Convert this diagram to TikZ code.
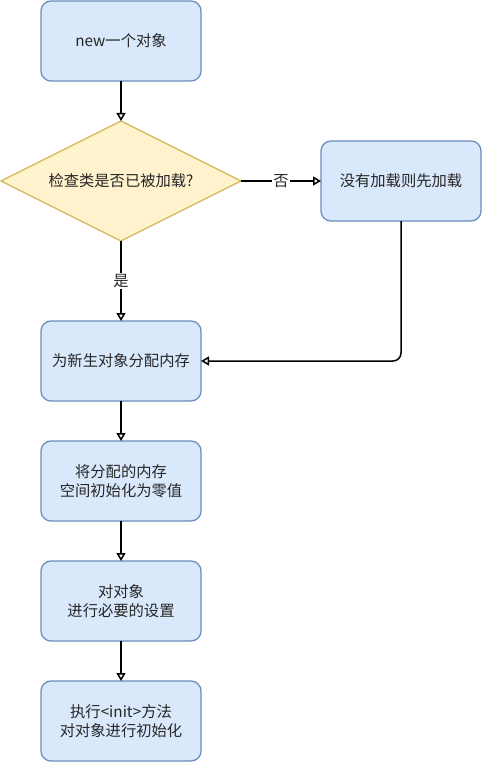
\documentclass[tikz,border=0pt]{standalone}
\usepackage{fontspec}
\setmainfont{Noto Sans CJK SC}
\usetikzlibrary{positioning, shapes.geometric, arrows.meta}
\definecolor{boxfill}{HTML}{DAE8FC}
\definecolor{boxline}{HTML}{6C8EBF}
\definecolor{askfill}{HTML}{FFF2CC}
\definecolor{askline}{HTML}{D6B656}
\tikzstyle{every node} = [font=\fontsize{15.3}{19.5}\selectfont, text=black!85]
\tikzstyle{stepbox} = [rectangle, rounded corners=10pt, draw=boxline, fill=boxfill, line width=1.3pt, outer sep=0pt, minimum width=160pt, minimum height=80pt, align=center]
\tikzstyle{askbox} = [diamond, aspect=2, inner sep=0pt, outer sep=0pt, draw=askline, fill=askfill, line width=1.3pt, minimum width=240pt, minimum height=120pt]
\tikzstyle{flow} = [line width=1.5pt, -{Triangle[open, length=8pt, width=9pt]}]
\tikzstyle{tag} = [fill=white, inner sep=1pt]

\begin{document}
\begin{tikzpicture}[x=1pt, y=-1pt, node distance=40pt]
        \useasboundingbox (0,0) rectangle (482,762);
        \node[stepbox] (newobj) at (121,41) {new一个对象};
        \node[askbox, below=of newobj] (check) {检查类是否已被加载?};
        \node[stepbox, right=80pt of check] (load) {没有加载则先加载};
        \node[stepbox, below=80pt of check] (alloc) {为新生对象分配内存};
        \node[stepbox, below=of alloc] (zero) {将分配的内存\\空间初始化为零值};
        \node[stepbox, below=of zero] (setup) {对对象\\进行必要的设置};
        \node[stepbox, below=of setup] (init) {执行<init>方法\\对对象进行初始化};

        \draw[flow] (newobj) -- (check);
        \draw[flow] (check) -- node[tag] {否} (load);
        \draw[flow] (check) -- node[tag] {是} (alloc);
        \draw[flow, rounded corners=8pt] (load.south) |- (alloc.east);
        \draw[flow] (alloc) -- (zero);
        \draw[flow] (zero) -- (setup);
        \draw[flow] (setup) -- (init);
\end{tikzpicture}
\end{document}
